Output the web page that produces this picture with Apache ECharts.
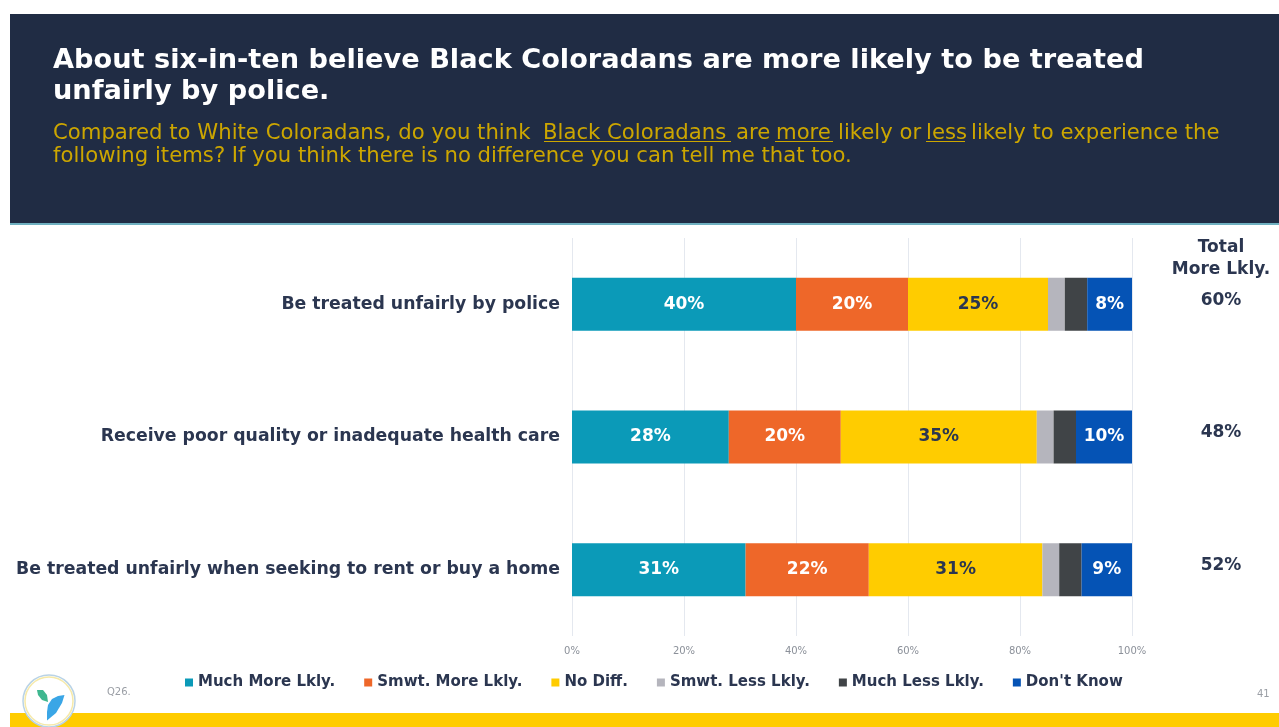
<!DOCTYPE html>
<html>
<head>
<meta charset="utf-8">
<style>
  html, body { margin: 0; padding: 0; background: #fff; }
  #main { width: 1279px; height: 727px; }
</style>
<script src="https://cdn.jsdelivr.net/npm/echarts@6/dist/echarts.min.js"></script>
</head>
<body>
<div id="main"></div>
<script>
// Survey items, top to bottom
const categories = [
  'Be treated unfairly by police',
  'Receive poor quality or inadequate health care',
  'Be treated unfairly when seeking to rent or buy a home'
];
const totalMoreLikely = ['60%', '48%', '52%'];
const tickLabels = [0, 20, 40, 60, 80, 100];

// Response shares, in percent
const muchMore = [40, 28, 31];
const somewhatMore = [20, 20, 22];
const noDifference = [25, 35, 31];
const somewhatLess = [3, 3, 3];
const muchLess = [4, 4, 4];
const dontKnow = [8, 10, 9];

const FONT = '"DejaVu Sans", sans-serif';
const INK = '#2b3650';
const NAVY = '#202c44';
const GOLD = '#cca600';
const YELLOW = '#ffcc00';
const SUB = 21.2;

function stacked(name, data, color, labelColor) {
  return {
    name, data, type: 'bar', stack: 'total', barWidth: 53, xAxisIndex: 0, yAxisIndex: 0,
    itemStyle: { color },
    label: {
      show: !!labelColor, position: 'inside', formatter: '{c}%',
      color: labelColor, fontFamily: FONT, fontWeight: 700, fontSize: 17
    }
  };
}

function headerText(text, x, y, size, weight, color) {
  return { type: 'text', x, y, z: 5, style: {
    text, fill: color, font: `${weight} ${size}px ${FONT}`, textVerticalAlign: 'middle'
  } };
}

function rule(x1, x2, y) {
  return { type: 'line', z: 5, shape: { x1, y1: y, x2, y2: y }, style: { stroke: GOLD, lineWidth: 1 } };
}

const chart = echarts.init(document.getElementById('main'), null, { renderer: 'canvas' });

chart.setOption({
  animation: false,
  backgroundColor: '#fff',
  grid: { left: 572, top: 238, width: 560, height: 398, containLabel: false },
  xAxis: {
    type: 'value', min: 0, max: 100, interval: 20,
    axisLine: { show: false }, axisTick: { show: false },
    splitLine: { show: true, lineStyle: { color: '#e4e8ef', width: 1 } },
    axisLabel: {
      formatter: v => tickLabels.includes(v) ? v + '%' : '',
      color: '#8b9099', fontFamily: FONT, fontSize: 10, margin: 10
    }
  },
  yAxis: [
    {
      type: 'category', data: categories, inverse: true,
      axisLine: { show: false }, axisTick: { show: false },
      axisLabel: { color: INK, fontFamily: FONT, fontWeight: 700, fontSize: 17.3, margin: 12 }
    },
    {
      type: 'category', data: totalMoreLikely, inverse: true, position: 'right',
      axisLine: { show: false }, axisTick: { show: false },
      axisLabel: {
        color: INK, fontFamily: FONT, fontWeight: 700, fontSize: 17,
        align: 'center', margin: 89, verticalAlign: 'bottom', lineHeight: 8
      }
    }
  ],
  legend: {
    left: 180, top: 670, itemWidth: 8, itemHeight: 8, itemGap: 29, icon: 'rect',
    textStyle: { color: INK, fontFamily: FONT, fontWeight: 700, fontSize: 15 },
    data: ['Much More Lkly.', 'Smwt. More Lkly.', 'No Diff.', 'Smwt. Less Lkly.', 'Much Less Lkly.', "Don't Know"]
  },
  series: [
    stacked('Much More Lkly.', muchMore, '#0b9ab8', '#ffffff'),
    stacked('Smwt. More Lkly.', somewhatMore, '#ee6729', '#ffffff'),
    stacked('No Diff.', noDifference, YELLOW, INK),
    stacked('Smwt. Less Lkly.', somewhatLess, '#b5b5bd', null),
    stacked('Much Less Lkly.', muchLess, '#404447', null),
    stacked("Don't Know", dontKnow, '#0553b5', '#ffffff')
  ],
  graphic: [
    // Header band
    { type: 'rect', z: 1, shape: { x: 10, y: 14, width: 1269, height: 209 }, style: { fill: NAVY } },
    { type: 'rect', z: 1, shape: { x: 10, y: 223, width: 1269, height: 2 }, style: { fill: '#6fb0c0' } },
    headerText('About six-in-ten believe Black Coloradans are more likely to be treated', 53, 61, 27.2, 700, '#ffffff'),
    headerText('unfairly by police.', 53, 92, 27.2, 700, '#ffffff'),

    // Question wording, split so the emphasised words can carry their rules
    headerText('Compared to White Coloradans, do you think', 53, 133, SUB, 400, GOLD),
    headerText('Black Coloradans', 543, 133, SUB, 400, GOLD),
    headerText('are', 736, 133, SUB, 400, GOLD),
    headerText('more', 776, 133, SUB, 400, GOLD),
    headerText('likely or', 838, 133, SUB, 400, GOLD),
    headerText('less', 926, 133, SUB, 400, GOLD),
    headerText('likely to experience the', 971, 133, SUB, 400, GOLD),
    headerText('following items? If you think there is no difference you can tell me that too.', 53, 156, SUB, 400, GOLD),
    rule(544, 731, 141.5), rule(775, 833, 141.5), rule(926, 965, 141.5),

    // Column heading for the totals
    { type: 'text', x: 1221, y: 248, z: 5, style: { text: 'Total', fill: INK, font: `700 17px ${FONT}`, textAlign: 'center', textVerticalAlign: 'middle' } },
    { type: 'text', x: 1221, y: 270, z: 5, style: { text: 'More Lkly.', fill: INK, font: `700 17px ${FONT}`, textAlign: 'center', textVerticalAlign: 'middle' } },

    // Footer
    { type: 'rect', z: 1, shape: { x: 10, y: 713, width: 1269, height: 14 }, style: { fill: YELLOW } },
    { type: 'text', x: 107, y: 692, z: 5, style: { text: 'Q26.', fill: '#9a9ea5', font: `400 10px ${FONT}`, textVerticalAlign: 'middle' } },
    { type: 'text', x: 1257, y: 694, z: 5, style: { text: '41', fill: '#9a9ea5', font: `400 10px ${FONT}`, textVerticalAlign: 'middle' } },

    // Round logo badge
    { type: 'circle', z: 6, shape: { cx: 49, cy: 701, r: 26 }, style: { fill: '#ffffff', stroke: '#b9d3e6', lineWidth: 1.5 } },
    { type: 'circle', z: 6, shape: { cx: 49, cy: 701, r: 24 }, style: { fill: '#ffffff', stroke: '#f6e9a8', lineWidth: 1.5 } },
    { type: 'polygon', z: 7, shape: { points: [[37, 690], [43, 690], [47, 695], [48, 702], [42, 700], [38, 695]] }, style: { fill: '#3fb78f' } },
    { type: 'polygon', z: 7, shape: { points: [[64.5, 695], [62, 703], [56, 713], [47, 720.5], [47, 712], [48, 705], [52, 699], [58, 696]] }, style: { fill: '#3aa6e6' } }
  ]
});
</script>
</body>
</html>
